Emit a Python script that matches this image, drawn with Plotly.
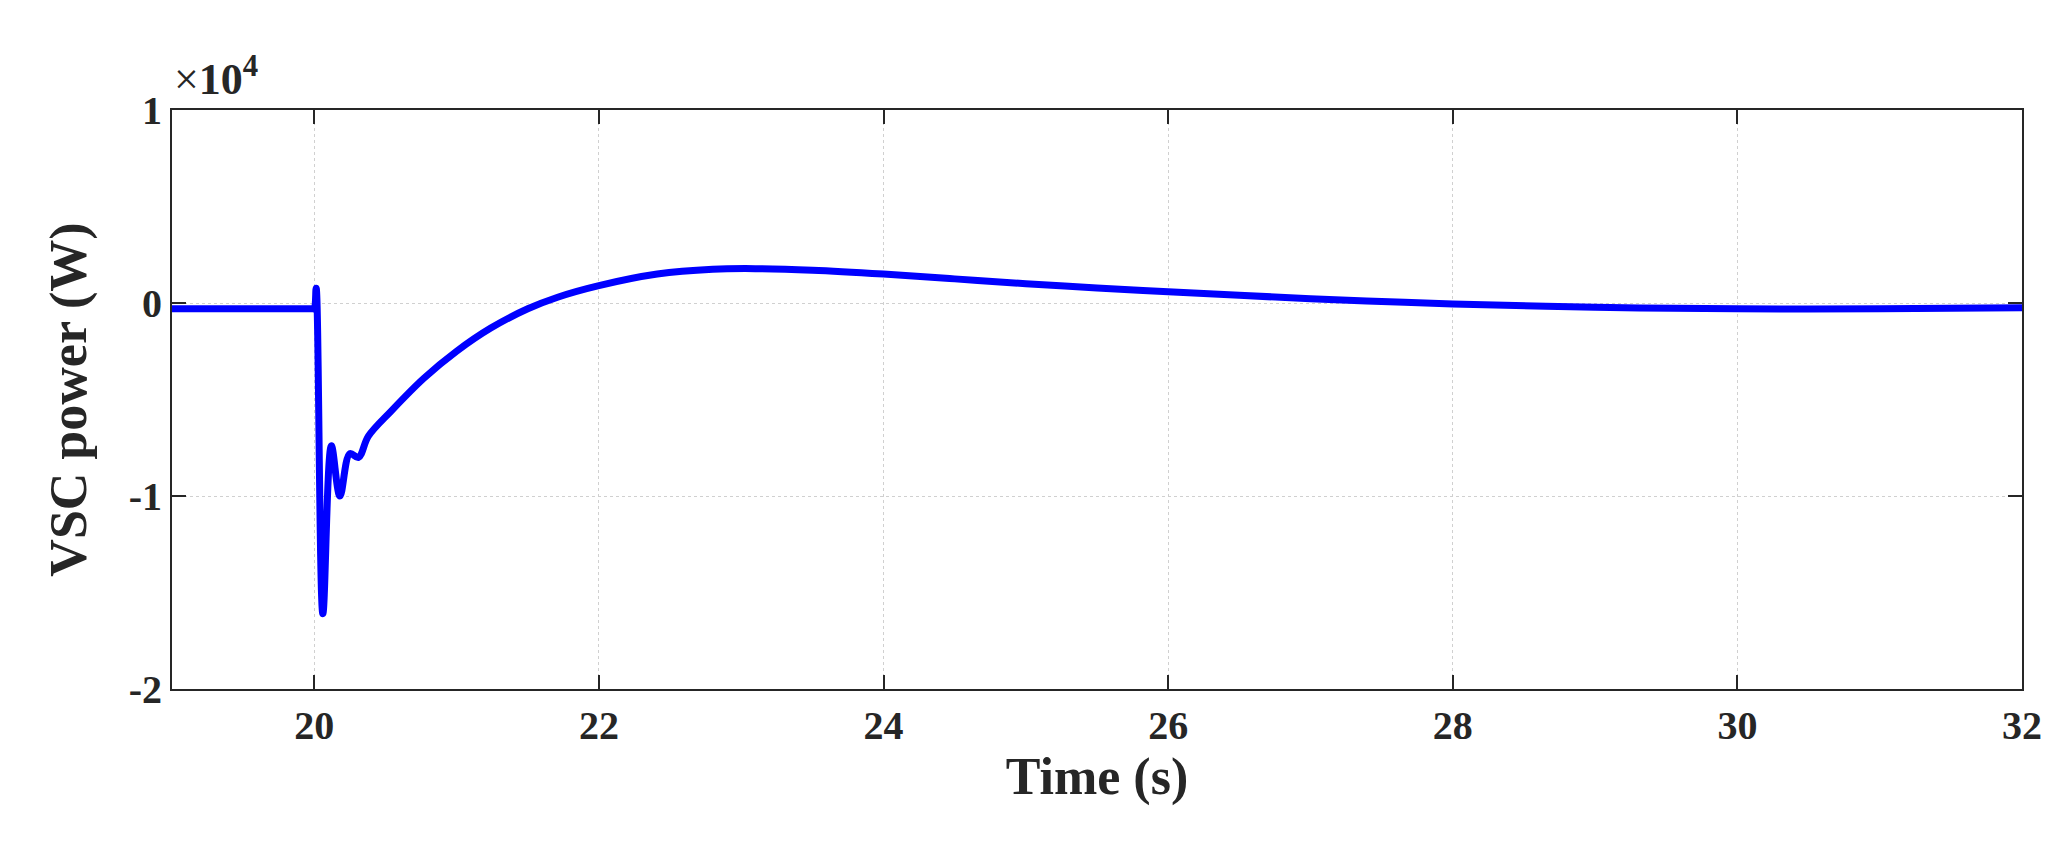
import plotly.graph_objects as go

# VSC power response (x1e4 W)
time = [19.0, 19.99, 20.0, 20.013, 20.06, 20.12, 20.18, 20.25, 20.31, 20.38, 20.54, 20.77,
        21.0, 21.24, 21.5, 21.71, 22.0, 22.41, 22.8, 23.1, 23.5, 24.0, 24.5, 25.0, 25.5,
        26.0, 26.5, 27.0, 27.5, 28.0, 29.0, 30.0, 31.0, 32.0]
power = [-0.03, -0.03, -0.03, 0.077, -1.61, -0.74, -1.0, -0.78, -0.80, -0.69, -0.56, -0.39,
         -0.25, -0.13, -0.03, 0.03, 0.09, 0.15, 0.175, 0.178, 0.17, 0.15, 0.125, 0.1, 0.078,
         0.058, 0.04, 0.022, 0.008, -0.005, -0.022, -0.03, -0.03, -0.025]

x_ticks = [20, 22, 24, 26, 28, 30, 32]
y_ticks = [-2, -1, 0, 1]

font = dict(family="Liberation Serif", size=40, color="#262626")
title_font = dict(family="Liberation Serif", size=52, color="#262626")

fig = go.Figure()
fig.add_trace(go.Scatter(x=time, y=power, mode="lines", line=dict(color="#0000ff", width=7), line_shape="spline"))

axis_style = dict(showline=True, mirror="ticks", linecolor="#262626", linewidth=2,
                  ticks="inside", ticklen=14, tickwidth=2, tickcolor="#262626",
                  showgrid=True, gridcolor="#d0d0d0", griddash="dot", gridwidth=1,
                  zeroline=False, tickfont=font)

fig.update_layout(
    width=2057, height=864, plot_bgcolor="white", paper_bgcolor="white", showlegend=False,
    margin=dict(l=164, r=43, t=102, b=183),
    xaxis=dict(range=[19, 32], tickvals=x_ticks, ticktext=["<b>%d</b>" % v for v in x_ticks],
               title=dict(text="<b>Time (s)</b>", font=title_font, standoff=8), **axis_style),
    yaxis=dict(range=[-2, 1], tickvals=y_ticks, ticktext=["<b>%d</b>" % v for v in y_ticks],
               title=dict(text="<b>VSC power (W)</b>", font=title_font, standoff=25), **axis_style),
    annotations=[dict(text="×<b>10<sup>4</sup></b>", x=0, y=1, xref="paper", yref="paper",
                      xanchor="left", yanchor="bottom", yshift=4, showarrow=False,
                      font=dict(family="Liberation Serif", size=44, color="#262626"))],
)
fig.write_html("out.html")
